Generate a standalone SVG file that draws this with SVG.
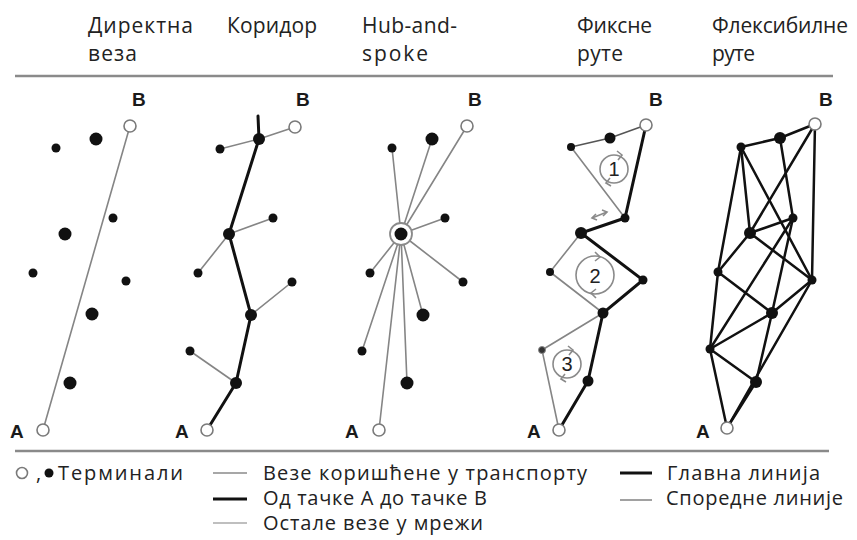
<svg xmlns="http://www.w3.org/2000/svg" width="857" height="540" viewBox="0 0 857 540">
  <style>
    .thin { stroke:#858585; stroke-width:1.6; fill:none; stroke-linecap:round; }
    .thick { stroke:#111; stroke-width:3; fill:none; stroke-linecap:round; }
    .net { stroke:#111; stroke-width:2.5; fill:none; stroke-linecap:round; }
    .rule { stroke:#8a8a8a; stroke-width:2.5; }
    .open { fill:#fff; stroke:#7a7a7a; stroke-width:1.6; }
    .dot { fill:#111; }
    .loop { fill:none; stroke:#8a8a8a; stroke-width:1.6; }
    .title { font-family:"Open Sans","DejaVu Sans",sans-serif; font-size:21px; fill:#222; }
    .ab { font-family:"Liberation Sans",Arial,sans-serif; font-weight:bold; font-size:19px; fill:#1a1a1a; }
    .num { font-family:"Liberation Sans",Arial,sans-serif; font-size:20px; fill:#222; text-anchor:middle; }
    .legend { font-family:"Open Sans","DejaVu Sans",sans-serif; font-size:20px; fill:#222; }
  </style>
  <rect width="857" height="540" fill="#fff"/>

  <!-- column headings -->
  <g id="headings">
    <text class="title" x="88" y="33" textLength="105">Директна</text>
    <text class="title" x="88" y="61" textLength="49">веза</text>
    <text class="title" x="227" y="33" textLength="90">Коридор</text>
    <text class="title" x="362" y="33" textLength="95">Hub-and-</text>
    <text class="title" x="362" y="61" textLength="66">spoke</text>
    <text class="title" x="577" y="33" textLength="75">Фиксне</text>
    <text class="title" x="577" y="61" textLength="46">руте</text>
    <text class="title" x="712" y="33" textLength="136">Флексибилне</text>
    <text class="title" x="712" y="61" textLength="43">руте</text>
  </g>
  <line class="rule" x1="15" y1="76" x2="833" y2="76"/>
  <line class="rule" x1="15" y1="451" x2="829" y2="451"/>

  <!-- 1: direct link -->
  <g id="direct">
    <g id="direct-links"><line class="thin" x1="43" y1="430" x2="130" y2="126"/></g>
    <g id="d-A"><circle class="open" cx="43" cy="430" r="6"/><text class="ab" x="10" y="438">A</text></g>
    <g id="d-B"><circle class="open" cx="130" cy="126" r="6"/><text class="ab" x="132" y="106">B</text></g>
    <g id="d-n1"><circle class="dot" cx="96" cy="139" r="6.5"/></g>
    <g id="d-n2"><circle class="dot" cx="56" cy="148" r="4.5"/></g>
    <g id="d-n3"><circle class="dot" cx="113" cy="218" r="4.5"/></g>
    <g id="d-n4"><circle class="dot" cx="65" cy="234" r="6.5"/></g>
    <g id="d-n5"><circle class="dot" cx="33" cy="273" r="4.5"/></g>
    <g id="d-n6"><circle class="dot" cx="126" cy="281" r="4.5"/></g>
    <g id="d-n7"><circle class="dot" cx="92" cy="314" r="6.5"/></g>
    <g id="d-n8"><circle class="dot" cx="70" cy="383" r="6.5"/></g>
  </g>

  <!-- 2: corridor -->
  <g id="corridor">
    <g id="corridor-links">
      <line class="thin" x1="259" y1="139" x2="295" y2="127"/>
      <line class="thin" x1="220" y1="149" x2="259" y2="139"/>
      <line class="thin" x1="273" y1="218" x2="229" y2="234"/>
      <line class="thin" x1="198" y1="273" x2="229" y2="234"/>
      <line class="thin" x1="292" y1="282" x2="251" y2="315"/>
      <line class="thin" x1="190" y1="351" x2="236" y2="383"/>
      <polyline class="thick" points="258,116 259,139 229,234 251,315 236,383 207,430"/>
    </g>
    <g id="c-A"><circle class="open" cx="207" cy="430" r="6"/><text class="ab" x="175" y="438">A</text></g>
    <g id="c-B"><circle class="open" cx="295" cy="127" r="6"/><text class="ab" x="296" y="106">B</text></g>
    <g id="c-n1"><circle class="dot" cx="259" cy="139" r="6"/></g>
    <g id="c-n2"><circle class="dot" cx="220" cy="149" r="4.5"/></g>
    <g id="c-n3"><circle class="dot" cx="273" cy="218" r="4.5"/></g>
    <g id="c-n4"><circle class="dot" cx="229" cy="234" r="6"/></g>
    <g id="c-n5"><circle class="dot" cx="198" cy="273" r="4.5"/></g>
    <g id="c-n6"><circle class="dot" cx="292" cy="282" r="4.5"/></g>
    <g id="c-n7"><circle class="dot" cx="251" cy="315" r="6"/></g>
    <g id="c-n8"><circle class="dot" cx="190" cy="351" r="4.5"/></g>
    <g id="c-n9"><circle class="dot" cx="236" cy="383" r="6"/></g>
  </g>

  <!-- 3: hub and spoke -->
  <g id="hub-and-spoke">
    <g id="hub-links">
      <line class="thin" x1="401" y1="234" x2="467" y2="126"/>
      <line class="thin" x1="401" y1="234" x2="432" y2="139"/>
      <line class="thin" x1="401" y1="234" x2="392" y2="148"/>
      <line class="thin" x1="401" y1="234" x2="445" y2="218"/>
      <line class="thin" x1="401" y1="234" x2="370" y2="273"/>
      <line class="thin" x1="401" y1="234" x2="463" y2="282"/>
      <line class="thin" x1="401" y1="234" x2="423" y2="315"/>
      <line class="thin" x1="401" y1="234" x2="362" y2="351"/>
      <line class="thin" x1="401" y1="234" x2="407" y2="383"/>
      <line class="thin" x1="401" y1="234" x2="379" y2="430"/>
    </g>
    <g id="h-A"><circle class="open" cx="379" cy="430" r="6"/><text class="ab" x="345" y="438">A</text></g>
    <g id="h-B"><circle class="open" cx="467" cy="126" r="6"/><text class="ab" x="468" y="106">B</text></g>
    <g id="h-hub"><circle cx="401" cy="234" r="11" fill="#fff" stroke="#8a8a8a" stroke-width="1.8"/><circle class="dot" cx="401" cy="234" r="6.5"/></g>
    <g id="h-n1"><circle class="dot" cx="432" cy="139" r="6.5"/></g>
    <g id="h-n2"><circle class="dot" cx="392" cy="148" r="4.5"/></g>
    <g id="h-n3"><circle class="dot" cx="445" cy="218" r="4.5"/></g>
    <g id="h-n4"><circle class="dot" cx="370" cy="273" r="4.5"/></g>
    <g id="h-n5"><circle class="dot" cx="463" cy="282" r="4.5"/></g>
    <g id="h-n6"><circle class="dot" cx="423" cy="315" r="6.5"/></g>
    <g id="h-n7"><circle class="dot" cx="362" cy="351" r="4.5"/></g>
    <g id="h-n8"><circle class="dot" cx="407" cy="383" r="6.5"/></g>
  </g>

  <!-- 4: fixed routes -->
  <g id="fixed-routes">
    <g id="fixed-links">
      <polyline points="571,147 610,138 646,125" fill="none" stroke="#555" stroke-width="1.6"/>
      <line class="thin" x1="571" y1="147" x2="625" y2="218"/>
      <polyline class="thin" points="581,233 550,272 603,313"/>
      <polyline class="thin" points="603,313 542,350 559,430"/>
      <polyline class="thick" points="646,125 625,218 581,233 643,280 603,313 588,381 559,430"/>
      <!-- loop markers -->
      <circle class="loop" cx="614" cy="169" r="14"/>
      <polyline class="loop" points="617,151 622,155 618,160"/>
      <polyline class="loop" points="611,186 606,183 610,178"/>
      <circle class="loop" cx="595" cy="275" r="19"/>
      <polyline class="loop" points="595,252 600,257 595,261"/>
      <polyline class="loop" points="596,298 591,293 596,289"/>
      <circle class="loop" cx="567" cy="364" r="14"/>
      <polyline class="loop" points="568,346 573,350 569,355"/>
      <polyline class="loop" points="566,382 561,379 565,374"/>
      <!-- transfer arrow -->
      <line class="loop" x1="592" y1="218" x2="607" y2="212"/>
      <polyline class="loop" points="596,214 592,218 597,220"/>
      <polyline class="loop" points="602,210 607,212 603,216"/>
    </g>
    <text class="num" x="614" y="176">1</text>
    <text class="num" x="595" y="283" font-size="22">2</text>
    <text class="num" x="567" y="371">3</text>
    <g id="f-A"><circle class="open" cx="559" cy="430" r="6"/><text class="ab" x="527" y="438">A</text></g>
    <g id="f-B"><circle class="open" cx="646" cy="125" r="6"/><text class="ab" x="649" y="106">B</text></g>
    <g id="f-n1"><circle class="dot" cx="610" cy="138" r="5.5"/></g>
    <g id="f-n2"><circle class="dot" cx="571" cy="147" r="4"/></g>
    <g id="f-n3"><circle class="dot" cx="625" cy="218" r="4.5"/></g>
    <g id="f-n4"><circle class="dot" cx="581" cy="233" r="6"/></g>
    <g id="f-n5"><circle class="dot" cx="550" cy="272" r="4"/></g>
    <g id="f-n6"><circle class="dot" cx="643" cy="280" r="4.5"/></g>
    <g id="f-n7"><circle class="dot" cx="603" cy="313" r="5.5"/></g>
    <g id="f-n8"><circle cx="542" cy="350" r="3.5" fill="#333" stroke="#888" stroke-width="1"/></g>
    <g id="f-n9"><circle class="dot" cx="588" cy="381" r="5.5"/></g>
  </g>

  <!-- 5: flexible routes -->
  <g id="flexible-routes">
    <g id="flex-links">
      <line class="net" x1="741" y1="147" x2="780" y2="138"/>
      <line class="net" x1="780" y1="138" x2="815" y2="124"/>
      <line class="net" x1="815" y1="124" x2="750" y2="233"/>
      <line class="net" x1="815" y1="124" x2="812" y2="280"/>
      <line class="net" x1="741" y1="147" x2="718" y2="272"/>
      <line class="net" x1="741" y1="147" x2="750" y2="233"/>
      <line class="net" x1="741" y1="147" x2="812" y2="280"/>
      <line class="net" x1="780" y1="138" x2="793" y2="218"/>
      <line class="net" x1="793" y1="218" x2="750" y2="233"/>
      <line class="net" x1="750" y1="233" x2="812" y2="280"/>
      <line class="net" x1="750" y1="233" x2="718" y2="272"/>
      <line class="net" x1="718" y1="272" x2="772" y2="313"/>
      <line class="net" x1="718" y1="272" x2="710" y2="349"/>
      <line class="net" x1="793" y1="218" x2="710" y2="349"/>
      <line class="net" x1="793" y1="218" x2="772" y2="313"/>
      <line class="net" x1="812" y1="280" x2="772" y2="313"/>
      <line class="net" x1="772" y1="313" x2="710" y2="349"/>
      <line class="net" x1="710" y1="349" x2="756" y2="382"/>
      <line class="net" x1="710" y1="349" x2="727" y2="428"/>
      <line class="net" x1="812" y1="280" x2="727" y2="428"/>
      <line class="net" x1="772" y1="313" x2="756" y2="382"/>
      <line class="net" x1="756" y1="382" x2="727" y2="428"/>
    </g>
    <g id="x-A"><circle class="open" cx="727" cy="428" r="6"/><text class="ab" x="696" y="438">A</text></g>
    <g id="x-B"><circle class="open" cx="815" cy="124" r="6"/><text class="ab" x="819" y="106">B</text></g>
    <g id="x-n1"><circle class="dot" cx="741" cy="147" r="4.5"/></g>
    <g id="x-n2"><circle class="dot" cx="780" cy="138" r="6"/></g>
    <g id="x-n3"><circle class="dot" cx="793" cy="218" r="4.5"/></g>
    <g id="x-n4"><circle class="dot" cx="750" cy="233" r="6"/></g>
    <g id="x-n5"><circle class="dot" cx="718" cy="272" r="4.5"/></g>
    <g id="x-n6"><circle class="dot" cx="812" cy="280" r="4.5"/></g>
    <g id="x-n7"><circle class="dot" cx="772" cy="313" r="6"/></g>
    <g id="x-n8"><circle class="dot" cx="710" cy="349" r="4.5"/></g>
    <g id="x-n9"><circle class="dot" cx="756" cy="382" r="6"/></g>
  </g>

  <!-- legend -->
  <g id="legend">
    <circle class="open" cx="22" cy="473" r="5.5"/>
    <text class="legend" x="36" y="480">,</text>
    <circle class="dot" cx="49" cy="473" r="4.5"/>
    <text class="legend" x="58" y="480" textLength="125">Терминали</text>

    <line x1="213" y1="473" x2="247" y2="473" stroke="#8a8a8a" stroke-width="1.6"/>
    <text class="legend" x="263" y="480" textLength="324">Везе коришћене у транспорту</text>
    <line x1="213" y1="499" x2="247" y2="499" stroke="#111" stroke-width="3"/>
    <text class="legend" x="263" y="505" textLength="224">Од тачке А до тачке В</text>
    <line x1="213" y1="523" x2="247" y2="523" stroke="#aaa" stroke-width="1.6"/>
    <text class="legend" x="263" y="530" textLength="220">Остале везе у мрежи</text>

    <line x1="620" y1="473" x2="652" y2="473" stroke="#111" stroke-width="3"/>
    <text class="legend" x="667" y="480" textLength="153">Главна линија</text>
    <line x1="620" y1="500" x2="652" y2="500" stroke="#8a8a8a" stroke-width="1.6"/>
    <text class="legend" x="666" y="505" textLength="177">Споредне линије</text>
  </g>
</svg>
